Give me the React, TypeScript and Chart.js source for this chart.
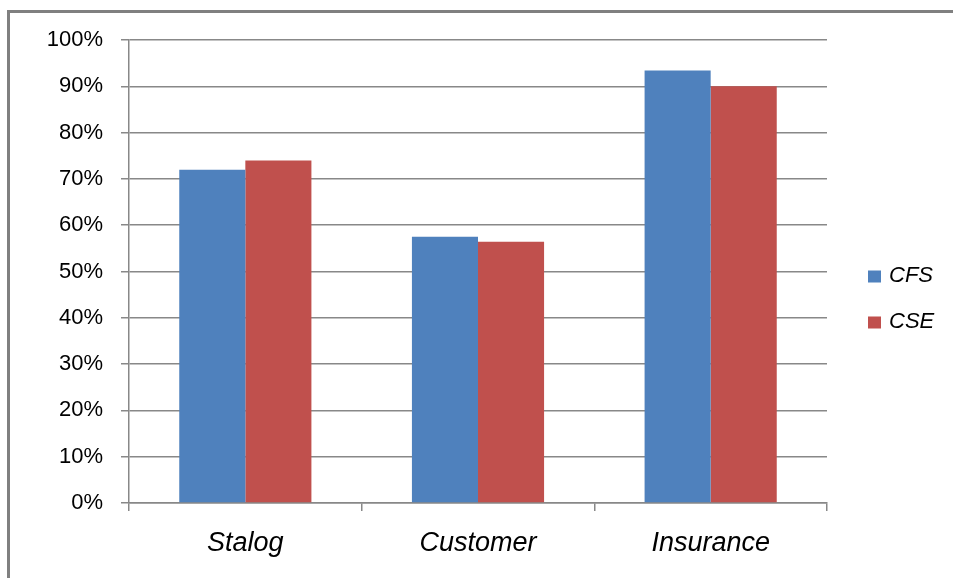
import { useEffect, useRef } from "react";
import { Chart, registerables } from "chart.js";

Chart.register(...registerables);

// Categories and series values (percent)
const categories = ["Stalog", "Customer", "Insurance"];
const cfsValues = [72, 57.5, 93.4];
const cseValues = [74, 56.4, 90];
const seriesNames = ["CFS", "CSE"];
const seriesColors = ["#4F81BD", "#C0504D"];
const yTickStep = 10;
const yMax = 100;

const FONT = "'Liberation Sans', Arial, Helvetica, sans-serif";
const GRID = "#888888";

// Legend drawn to the right of the plot, one swatch + label per dataset
const sideLegend = {
  id: "sideLegend",
  afterDraw(chart: any) {
    const { ctx, chartArea } = chart;
    const x0 = chartArea.right + 41;
    const y0 = (chartArea.top + chartArea.bottom) / 2 + 5;
    ctx.save();
    ctx.font = `italic 22px ${FONT}`;
    ctx.textBaseline = "middle";
    ctx.textAlign = "left";
    chart.data.datasets.forEach((ds: any, i: number) => {
      const cy = y0 + i * 46;
      ctx.fillStyle = ds.backgroundColor;
      ctx.fillRect(x0, cy - 6, 13, 12);
      ctx.fillStyle = "#000";
      ctx.fillText(ds.label, x0 + 21, cy - 1);
    });
    ctx.restore();
  },
};

export default function App() {
  const canvasRef = useRef<HTMLCanvasElement | null>(null);

  useEffect(() => {
    if (!canvasRef.current) return;
    const chart = new Chart(canvasRef.current, {
      type: "bar",
      data: {
        labels: categories,
        datasets: [
          { label: seriesNames[0], data: cfsValues, backgroundColor: seriesColors[0] },
          { label: seriesNames[1], data: cseValues, backgroundColor: seriesColors[1] },
        ],
      },
      options: {
        animation: false,
        responsive: false,
        maintainAspectRatio: false,
        layout: { padding: { top: 40, right: 126, left: 0, bottom: 0 } },
        datasets: { bar: { categoryPercentage: 0.568, barPercentage: 1 } },
        plugins: {
          legend: { display: false },
          tooltip: { enabled: false },
        },
        scales: {
          x: {
            grid: {
              display: true,
              drawOnChartArea: false,
              drawTicks: true,
              tickLength: 8,
              color: GRID,
              lineWidth: 1.5,
              offset: true,
            },
            border: { display: true, color: GRID, width: 1.5 },
            ticks: {
              color: "#000",
              font: { family: FONT, size: 27, style: "italic" },
              padding: 16,
              maxRotation: 0,
            },
            afterFit: (s: any) => {
              s.height = 75;
            },
          },
          y: {
            min: 0,
            max: yMax,
            ticks: {
              stepSize: yTickStep,
              callback: (v: any) => `${v}%`,
              color: "#000",
              font: { family: FONT, size: 22 },
              padding: 18,
            },
            grid: { color: GRID, lineWidth: 1.5, tickLength: 8 },
            border: { color: GRID, width: 1.5 },
            afterFit: (s: any) => {
              s.width = 129;
            },
          },
        },
      },
      plugins: [sideLegend],
    });
    return () => chart.destroy();
  }, []);

  return (
    <div
      style={{
        position: "absolute",
        left: 0,
        top: 0,
        width: 953,
        height: 578,
        background: "#fff",
        overflow: "hidden",
      }}
    >
      <div
        style={{
          position: "absolute",
          left: 7,
          top: 10,
          right: -10,
          bottom: -10,
          borderLeft: "3px solid #808080",
          borderTop: "3px solid #808080",
        }}
      />
      <canvas
        ref={canvasRef}
        width={953}
        height={578}
        style={{ position: "absolute", left: 0, top: 0, width: 953, height: 578 }}
      />
    </div>
  );
}
